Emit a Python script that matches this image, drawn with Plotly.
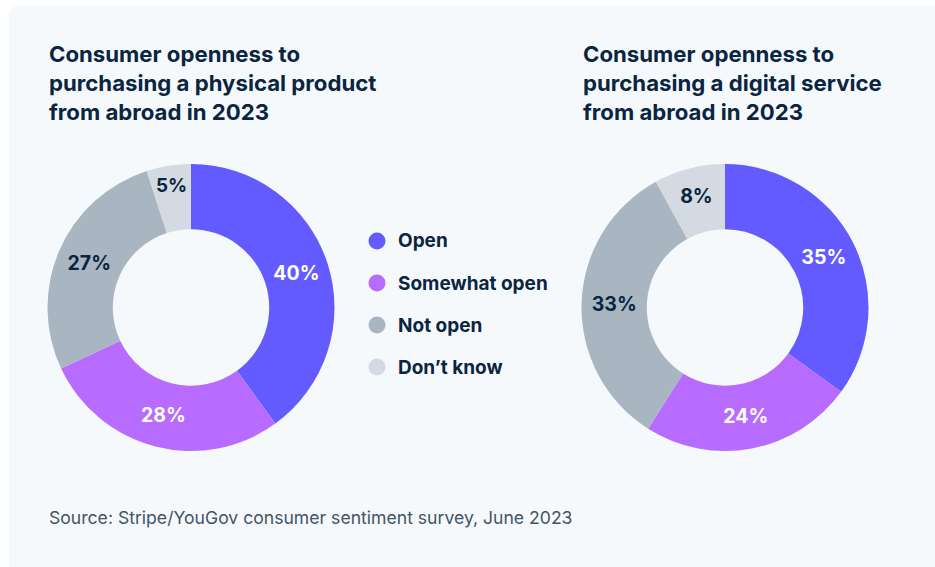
import plotly.graph_objects as go

W, H = 935, 567

categories = ["Open", "Somewhat open", "Not open", "Don\u2019t know"]
physical_product = [40, 28, 27, 5]
digital_service = [35, 24, 33, 8]
colors = ["#635bff", "#b86bff", "#a9b6c2", "#d3dae1"]
label_colors = ["#ffffff", "#ffffff", "#0a2540", "#0a2540"]

title_left = "Consumer openness to<br>purchasing a physical product<br>from abroad in 2023"
title_right = "Consumer openness to<br>purchasing a digital service<br>from abroad in 2023"
source_note = "Source: Stripe/YouGov consumer sentiment survey, June 2023"

NAVY = "#0a2540"
PANEL = "#f6f9fc"
FONT = "Inter, Roboto, sans-serif"


def px_x(v):
    return v / W


def px_y(v):
    return 1 - v / H


def donut(values, cx, cy, r):
    return go.Pie(
        labels=categories,
        values=values,
        sort=False,
        direction="clockwise",
        rotation=0,
        hole=0.545,
        marker=dict(colors=colors, line=dict(width=0)),
        texttemplate="%{value}%",
        textposition="inside",
        insidetextorientation="horizontal",
        textfont=dict(family=FONT, size=19.5, color=label_colors, weight=700),
        showlegend=False,
        hoverinfo="label+value",
        domain=dict(x=[px_x(cx - r), px_x(cx + r)], y=[px_y(cy + r), px_y(cy - r)]),
    )


fig = go.Figure()
fig.add_trace(donut(physical_product, 191, 307.5, 143.5))
fig.add_trace(donut(digital_service, 725, 307.5, 143.5))

# rounded background panel
x0, y0, x1, y1, rr = 9, 5, W + 20, H + 20, 12
panel_path = (
    f"M {x0 + rr},{y0} L {x1},{y0} L {x1},{y1} L {x0},{y1} L {x0},{y0 + rr} "
    f"Q {x0},{y0} {x0 + rr},{y0} Z"
)
shapes = [
    dict(type="path", xref="x", yref="y", path=panel_path,
         fillcolor=PANEL, line=dict(width=0), layer="below")
]

title_font = dict(family=FONT, size=22.2, color=NAVY, weight=700)
annotations = [
    dict(text=title_left, x=px_x(47), y=px_y(38), xref="paper", yref="paper",
         xanchor="left", yanchor="top", align="left", showarrow=False,
         font=title_font),
    dict(text=title_right, x=px_x(581), y=px_y(38), xref="paper", yref="paper",
         xanchor="left", yanchor="top", align="left", showarrow=False,
         font=title_font),
    dict(text=source_note, x=px_x(47), y=px_y(517), xref="paper", yref="paper",
         xanchor="left", yanchor="middle", align="left", showarrow=False,
         font=dict(family=FONT, size=17.6, color="#425466")),
]

# legend: circle markers with bold labels
leg_x, leg_y0, leg_dy, dot_r = 377, 241, 42, 8.5
for i, (cat, col) in enumerate(zip(categories, colors)):
    yy = leg_y0 + i * leg_dy
    shapes.append(dict(type="circle", xref="x", yref="y",
                       x0=leg_x - dot_r, x1=leg_x + dot_r,
                       y0=yy - dot_r, y1=yy + dot_r,
                       fillcolor=col, line=dict(width=0)))
    annotations.append(dict(text=cat, x=px_x(396), y=px_y(yy), xref="paper", yref="paper",
                            xanchor="left", yanchor="middle", showarrow=False,
                            font=dict(family=FONT, size=19, color=NAVY, weight=700)))

fig.update_layout(
    width=W, height=H, autosize=False,
    margin=dict(l=0, r=0, t=0, b=0),
    paper_bgcolor="#ffffff", plot_bgcolor="rgba(0,0,0,0)",
    xaxis=dict(range=[0, W], visible=False, fixedrange=True),
    yaxis=dict(range=[H, 0], visible=False, fixedrange=True),
    shapes=shapes,
    annotations=annotations,
    font=dict(family=FONT, color=NAVY),
)

fig.write_html("out.html")
